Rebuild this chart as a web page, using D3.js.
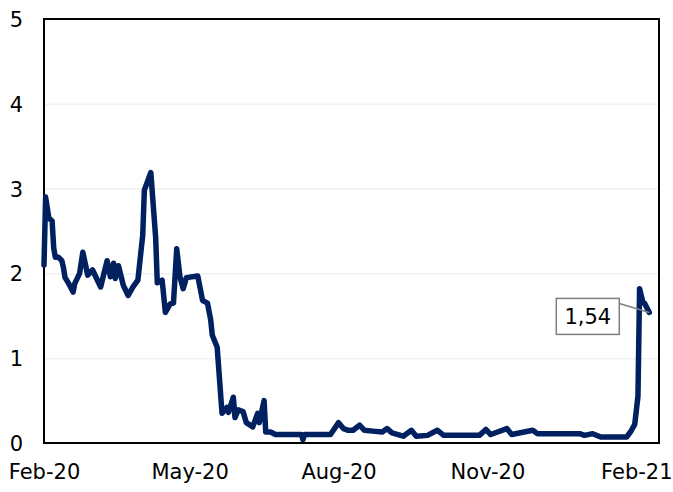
<!DOCTYPE html>
<html>
<head>
<meta charset="utf-8">
<script src="https://cdn.jsdelivr.net/npm/d3@7"></script>
<style>
    body { margin: 0; background: #fff; }
    text { font-family: "DejaVu Sans", Verdana, sans-serif; }
</style>
</head>
<body>
<div id="chart"></div>
<script>
let w = 673;
let h = 492;
let margin = {top: 19, right: 14, bottom: 49, left: 44};

// series
let dates = [
    '2020-02-01','2020-02-02','2020-02-04','2020-02-06','2020-02-07','2020-02-08','2020-02-10','2020-02-12',
    '2020-02-13','2020-02-14','2020-02-16','2020-02-19','2020-02-20','2020-02-23','2020-02-25','2020-02-28',
    '2020-03-02','2020-03-07','2020-03-11','2020-03-13','2020-03-15','2020-03-16','2020-03-18','2020-03-21',
    '2020-03-24','2020-03-27','2020-03-30','2020-04-02','2020-04-03','2020-04-07','2020-04-10','2020-04-11',
    '2020-04-14','2020-04-16','2020-04-19','2020-04-21','2020-04-23','2020-04-25','2020-04-27','2020-04-29',
    '2020-05-06','2020-05-09','2020-05-12','2020-05-14','2020-05-15','2020-05-18','2020-05-21','2020-05-24',
    '2020-05-25','2020-05-28','2020-05-29','2020-05-31','2020-06-03','2020-06-05','2020-06-09','2020-06-12',
    '2020-06-13','2020-06-16','2020-06-17','2020-06-20','2020-06-23','2020-07-09','2020-07-10','2020-07-11',
    '2020-07-27','2020-08-01','2020-08-04','2020-08-07','2020-08-10','2020-08-14','2020-08-17','2020-08-22',
    '2020-08-28','2020-08-31','2020-09-03','2020-09-10','2020-09-15','2020-09-18','2020-09-25','2020-10-01',
    '2020-10-05','2020-10-27','2020-10-31','2020-11-03','2020-11-13','2020-11-16','2020-11-29','2020-12-02',
    '2020-12-28','2020-12-31','2021-01-05','2021-01-10','2021-01-26','2021-01-29','2021-01-31','2021-02-02',
    '2021-02-03','2021-02-05','2021-02-06','2021-02-09'
];
let values = [
    2.1, 2.9, 2.65, 2.62, 2.3, 2.19, 2.19, 2.15,
    2.07, 1.95, 1.89, 1.78, 1.88, 2.0, 2.25, 1.98,
    2.04, 1.84, 2.15, 1.96, 2.12, 1.94, 2.09, 1.86,
    1.74, 1.84, 1.92, 2.45, 2.98, 3.19, 2.42, 1.89,
    1.92, 1.54, 1.64, 1.65, 2.29, 1.96, 1.82, 1.95,
    1.97, 1.68, 1.65, 1.45, 1.27, 1.13, 0.35, 0.42,
    0.36, 0.54, 0.3, 0.39, 0.37, 0.24, 0.19, 0.35,
    0.24, 0.5, 0.13, 0.13, 0.1, 0.1, 0.04, 0.1,
    0.1, 0.24, 0.17, 0.15, 0.15, 0.21, 0.15, 0.14,
    0.13, 0.17, 0.12, 0.08, 0.15, 0.08, 0.09, 0.15,
    0.09, 0.09, 0.16, 0.1, 0.17, 0.1, 0.15, 0.11,
    0.11, 0.09, 0.11, 0.07, 0.07, 0.15, 0.22, 0.55,
    1.82, 1.66, 1.65, 1.54
];
let yTicks = [0, 1, 2, 3, 4, 5];
let xTicks = ['2020-02-01', '2020-05-01', '2020-08-01', '2020-11-01', '2021-02-01'];
let xDomain = ['2020-02-01', '2021-02-15'];
let lastLabel = '1,54';

window.onload = () => {
    loadVisualisation();
};

const loadVisualisation = () => {
    let parse = d3.timeParse('%Y-%m-%d');
    let data = dates.map((d, i) => ({date: parse(d), value: values[i]}));

    let svg = d3.select('#chart')
        .append('svg')
        .attr('width', w)
        .attr('height', h);

    let xScale = d3.scaleTime()
        .domain(xDomain.map(parse))
        .range([margin.left, w - margin.right]);

    let yScale = d3.scaleLinear()
        .domain([0, 5])
        .range([h - margin.bottom, margin.top]);

    // gridlines
    svg.append('g')
        .attr('transform', 'translate(' + margin.left + ',0)')
        .call(d3.axisLeft(yScale).tickValues(yTicks).tickSize(-(w - margin.left - margin.right)).tickFormat(''))
        .call(g => g.select('.domain').remove())
        .selectAll('line')
        .attr('stroke', '#eef1f6')
        .attr('stroke-width', 1.5);

    // y labels
    let yAxis = svg.append('g')
        .attr('transform', 'translate(' + (margin.left - 21) + ',0)')
        .call(d3.axisLeft(yScale).tickValues(yTicks).tickSize(0).tickPadding(0)
            .tickFormat(d3.format('d')));
    yAxis.select('.domain').remove();
    yAxis.selectAll('text')
        .attr('dy', '0.36em')
        .style('font-size', '21px')
        .style('font-family', '"DejaVu Sans", sans-serif')
        .attr('fill', '#000');

    // x labels
    let xAxis = svg.append('g')
        .attr('transform', 'translate(0,' + (h - margin.bottom) + ')')
        .call(d3.axisBottom(xScale).tickValues(xTicks.map(parse)).tickSize(0).tickPadding(21)
            .tickFormat(d3.timeFormat('%b-%y')));
    xAxis.select('.domain').remove();
    xAxis.selectAll('text')
        .style('font-size', '21px')
        .style('font-family', '"DejaVu Sans", sans-serif')
        .attr('fill', '#000');

    // plot frame
    svg.append('rect')
        .attr('x', margin.left)
        .attr('y', margin.top)
        .attr('width', w - margin.left - margin.right)
        .attr('height', h - margin.top - margin.bottom)
        .attr('fill', 'none')
        .attr('stroke', '#000')
        .attr('stroke-width', 2);

    svg.append('path')
        .datum(data)
        .attr('d', d3.line()
            .x(d => xScale(d.date))
            .y(d => yScale(d.value))
        )
        .attr('stroke', '#002060')
        .style('stroke-width', 5.5)
        .style('stroke-linejoin', 'round')
        .style('stroke-linecap', 'round')
        .style('fill', 'none');

    // data label on the last point
    let last = data[data.length - 1];
    let px = xScale(last.date);
    let py = yScale(last.value);
    let bw = 63, bh = 36;
    let bx = px - 30 - bw;
    let by = py - 14;

    svg.append('line')
        .attr('x1', bx + bw)
        .attr('y1', by + 5)
        .attr('x2', px)
        .attr('y2', py)
        .attr('stroke', '#7f7f7f')
        .attr('stroke-width', 1.5);

    svg.append('rect')
        .attr('x', bx)
        .attr('y', by)
        .attr('width', bw)
        .attr('height', bh)
        .attr('fill', '#fff')
        .attr('stroke', '#7f7f7f')
        .attr('stroke-width', 1.5);

    svg.append('text')
        .attr('x', bx + bw / 2)
        .attr('y', by + bh / 2)
        .attr('dy', '0.36em')
        .attr('text-anchor', 'middle')
        .style('font-size', '21px')
        .text(lastLabel);
};
</script>
</body>
</html>
